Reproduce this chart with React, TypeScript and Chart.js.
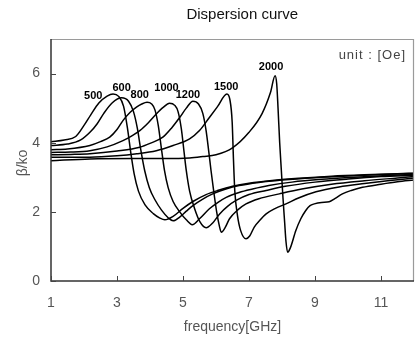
import React, { useEffect, useRef } from "react";
import { Chart, registerables } from "chart.js";
Chart.register(...registerables);

// Field strengths (Oe)
const fields = ["500", "600", "800", "1000", "1200", "1500", "2000"];

// Frequency (GHz) / beta/k0 for each curve
const x500 = [1, 1.4, 1.75, 2.0, 2.2, 2.45, 2.7, 2.88, 3.05, 3.2, 3.32, 3.42, 3.52, 3.65, 3.85, 4.1, 4.3, 4.45, 4.7, 5.0, 5.3, 5.7, 6.1, 6.5, 7.0, 7.7, 8.5, 9.5, 10.5, 11.5, 12];
const y500 = [4.03, 4.08, 4.18, 4.5, 4.8, 5.15, 5.35, 5.41, 5.34, 5.05, 4.4, 3.7, 3.1, 2.6, 2.2, 1.95, 1.82, 1.77, 1.87, 2.1, 2.3, 2.5, 2.63, 2.74, 2.83, 2.91, 2.97, 3.03, 3.07, 3.1, 3.12];

const x600 = [1, 1.5, 1.9, 2.18, 2.4, 2.6, 2.85, 3.14, 3.35, 3.5, 3.62, 3.72, 3.84, 3.98, 4.15, 4.35, 4.55, 4.7, 4.9, 5.1, 5.3, 5.6, 5.9, 6.3, 6.7, 7.3, 8.0, 9.0, 10.0, 11.0, 12];
const y600 = [3.92, 3.96, 4.08, 4.3, 4.55, 4.85, 5.15, 5.3, 5.2, 4.9, 4.4, 3.8, 3.19, 2.7, 2.35, 2.05, 1.83, 1.74, 1.85, 2.02, 2.18, 2.37, 2.52, 2.66, 2.76, 2.85, 2.92, 2.99, 3.04, 3.08, 3.11];

const x800 = [1, 1.5, 2.18, 2.5, 2.78, 3.0, 3.18, 3.4, 3.59, 3.75, 3.91, 4.05, 4.15, 4.25, 4.35, 4.44, 4.55, 4.7, 4.9, 5.1, 5.28, 5.5, 5.8, 6.05, 6.31, 6.7, 7.11, 7.6, 8.3, 9.2, 10.2, 11.2, 12];
const y800 = [3.8, 3.82, 3.92, 4.03, 4.16, 4.38, 4.64, 4.88, 5.03, 5.12, 5.17, 5.12, 4.95, 4.5, 3.8, 3.19, 2.7, 2.3, 2.0, 1.77, 1.63, 1.8, 2.09, 2.27, 2.42, 2.56, 2.66, 2.76, 2.86, 2.94, 3.0, 3.05, 3.08];

const x1000 = [1, 1.6, 2.18, 2.7, 3.18, 3.45, 3.69, 3.95, 4.19, 4.4, 4.59, 4.75, 4.85, 4.95, 5.03, 5.1, 5.2, 5.35, 5.52, 5.7, 5.9, 6.11, 6.35, 6.61, 7.0, 7.52, 8.1, 9.0, 10.0, 11.0, 12];
const y1000 = [3.72, 3.73, 3.77, 3.88, 4.06, 4.2, 4.35, 4.58, 4.83, 5.02, 5.14, 5.08, 4.9, 4.4, 3.75, 3.19, 2.6, 2.1, 1.7, 1.54, 1.68, 1.94, 2.16, 2.33, 2.5, 2.62, 2.74, 2.86, 2.95, 3.02, 3.06];

const x1200 = [1, 1.6, 2.18, 3.0, 3.69, 4.0, 4.39, 4.65, 4.9, 5.1, 5.3, 5.47, 5.6, 5.7, 5.78, 5.85, 5.93, 6.02, 6.1, 6.16, 6.28, 6.41, 6.65, 6.91, 7.3, 7.92, 8.6, 9.5, 10.5, 11.5, 12];
const y1200 = [3.65, 3.66, 3.68, 3.76, 3.87, 3.98, 4.16, 4.42, 4.73, 5.0, 5.2, 5.12, 4.85, 4.35, 3.75, 3.19, 2.6, 2.0, 1.6, 1.41, 1.55, 1.8, 2.05, 2.23, 2.38, 2.52, 2.66, 2.8, 2.9, 2.98, 3.02];

const x1500 = [1, 2.18, 3.0, 3.6, 4.19, 4.7, 5.2, 5.5, 5.8, 6.05, 6.33, 6.42, 6.49, 6.53, 6.57, 6.65, 6.75, 6.91, 7.02, 7.16, 7.35, 7.52, 7.8, 8.12, 8.5, 9.03, 9.73, 10.5, 11.2, 12];
const y1500 = [3.58, 3.58, 3.62, 3.68, 3.77, 3.92, 4.11, 4.35, 4.73, 5.05, 5.41, 5.25, 4.6, 3.5, 2.6, 1.9, 1.45, 1.22, 1.3, 1.56, 1.78, 1.94, 2.1, 2.23, 2.4, 2.58, 2.72, 2.82, 2.9, 2.98];

const x2000 = [1, 2.18, 3.5, 4.5, 5.2, 5.6, 6.0, 6.5, 7.0, 7.4, 7.65, 7.79, 7.84, 7.88, 7.93, 7.98, 8.03, 8.08, 8.12, 8.17, 8.25, 8.42, 8.57, 8.72, 8.85, 8.98, 9.2, 9.43, 9.6, 9.83, 10.1, 10.44, 11.0, 11.5, 12];
const y2000 = [3.48, 3.53, 3.54, 3.54, 3.56, 3.6, 3.65, 3.85, 4.3, 4.85, 5.45, 5.94, 5.7, 5.0, 4.0, 3.2, 2.4, 1.7, 1.15, 0.83, 0.95, 1.46, 1.8, 2.04, 2.18, 2.23, 2.27, 2.29, 2.38, 2.52, 2.62, 2.71, 2.8, 2.87, 2.92];

const seriesX = [x500, x600, x800, x1000, x1200, x1500, x2000];
const seriesY = [y500, y600, y800, y1000, y1200, y1500, y2000];

// Field label anchors (data coordinates)
const labelX = [2.28, 3.14, 3.69, 4.5, 5.15, 6.31, 7.67];
const labelY = [5.36, 5.58, 5.38, 5.58, 5.39, 5.62, 6.18];

const xTicks = [1, 3, 5, 7, 9, 11];
const yTicks = [0, 2, 4, 6];

const titleText = "Dispersion curve";
const xTitle = "frequency[GHz]";
const yTitle = "β/ko";
const unitText = "unit : [Oe]";

const FONT = "'Liberation Sans', Arial, sans-serif";

const decor = {
  id: "decor",
  afterDraw(chart: any) {
    const { ctx, chartArea: a, scales } = chart;
    const xs = scales.x;
    const ys = scales.y;
    ctx.save();
    // frame
    ctx.strokeStyle = "#9a9a9a";
    ctx.lineWidth = 1.2;
    ctx.beginPath();
    ctx.moveTo(a.left, a.top + 0.5);
    ctx.lineTo(a.right - 0.5, a.top + 0.5);
    ctx.lineTo(a.right - 0.5, a.bottom);
    ctx.stroke();
    ctx.strokeStyle = "#333";
    ctx.lineWidth = 1.5;
    ctx.beginPath();
    ctx.moveTo(a.left, a.top);
    ctx.lineTo(a.left, a.bottom);
    ctx.lineTo(a.right, a.bottom);
    ctx.stroke();
    // inward ticks
    ctx.lineWidth = 1;
    ctx.strokeStyle = "#444";
    ctx.beginPath();
    xTicks.forEach((v) => {
      const px = Math.round(xs.getPixelForValue(v)) + 0.5;
      ctx.moveTo(px, a.bottom);
      ctx.lineTo(px, a.bottom - 5);
    });
    yTicks.forEach((v) => {
      const py = Math.round(ys.getPixelForValue(v)) + 0.5;
      ctx.moveTo(a.left, py);
      ctx.lineTo(a.left + 5, py);
    });
    ctx.stroke();

    // title
    ctx.fillStyle = "#111";
    ctx.font = `15px ${FONT}`;
    ctx.textAlign = "center";
    ctx.textBaseline = "middle";
    ctx.fillText(titleText, a.left + a.width * 0.527, 15);

    // axis titles
    ctx.fillStyle = "#555";
    ctx.font = `14px ${FONT}`;
    ctx.fillText(xTitle, (a.left + a.right) / 2, 327);
    ctx.save();
    ctx.translate(23, (a.top + a.bottom) / 2 + 3);
    ctx.rotate(-Math.PI / 2);
    ctx.fillText(yTitle, 0, 0);
    ctx.restore();

    // unit
    ctx.fillStyle = "#444";
    ctx.font = `13px ${FONT}`;
    ctx.textAlign = "right";
    try { (ctx as any).letterSpacing = "1px"; } catch (e) {}
    ctx.fillText(unitText, a.right - 8, 55);
    try { (ctx as any).letterSpacing = "0px"; } catch (e) {}

    // field labels
    ctx.fillStyle = "#000";
    ctx.font = `bold 11px 'Liberation Sans Narrow', 'Liberation Sans', Arial, sans-serif`;
    ctx.textAlign = "center";
    fields.forEach((f, i) => {
      ctx.fillText(f, xs.getPixelForValue(labelX[i]), ys.getPixelForValue(labelY[i]));
    });
    ctx.restore();
  },
};

export default function App() {
  const ref = useRef<HTMLCanvasElement | null>(null);
  useEffect(() => {
    if (!ref.current) return;
    const datasets = fields.map((f, i) => ({
      label: f,
      data: seriesX[i].map((x, j) => ({ x, y: seriesY[i][j] })),
      borderColor: "#000",
      borderWidth: 1.5,
      pointRadius: 0,
      fill: false,
      cubicInterpolationMode: "monotone" as const,
    }));
    const chart = new Chart(ref.current, {
      type: "line",
      data: { datasets },
      options: {
        animation: false,
        responsive: false,
        layout: { padding: { left: 0, right: 4, top: 39, bottom: 0 } },
        plugins: { legend: { display: false }, tooltip: { enabled: false }, title: { display: false } },
        scales: {
          x: {
            type: "linear",
            min: 1,
            max: 12,
            grid: { display: false, drawTicks: false },
            border: { display: false },
            afterBuildTicks: (s: any) => { s.ticks = xTicks.map((v) => ({ value: v })); },
            afterFit: (s: any) => { s.height = 57; },
            ticks: { padding: 14, color: "#555", font: { size: 14, family: FONT }, autoSkip: false, maxRotation: 0 },
          },
          y: {
            type: "linear",
            min: 0,
            max: 7,
            grid: { display: false, drawTicks: false },
            border: { display: false },
            afterBuildTicks: (s: any) => { s.ticks = yTicks.map((v) => ({ value: v })); },
            afterFit: (s: any) => { s.width = 51; },
            ticks: { padding: 11, color: "#555", font: { size: 14, family: FONT } },
          },
        },
      },
      plugins: [decor],
    });
    return () => chart.destroy();
  }, []);
  return (
    <div style={{ position: "fixed", left: 0, top: 0, width: 418, height: 338, background: "#fff" }}>
      <canvas ref={ref} width={418} height={338} style={{ display: "block" }} />
    </div>
  );
}
